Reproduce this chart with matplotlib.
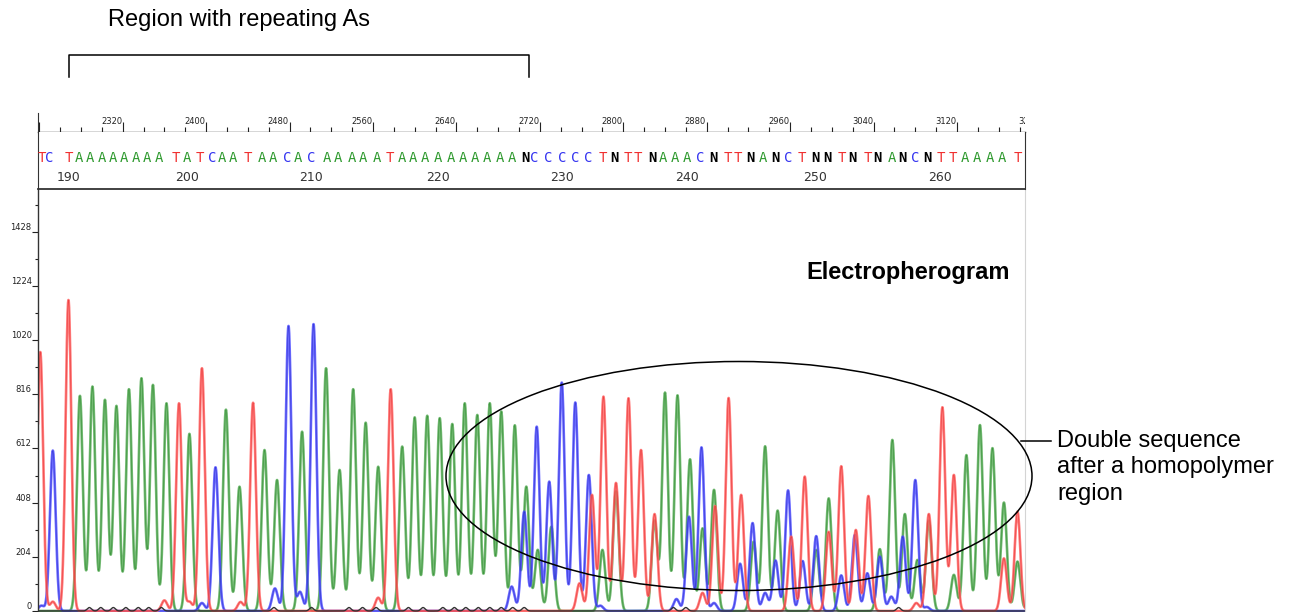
import numpy as np
import matplotlib.pyplot as plt
from matplotlib.patches import Ellipse
from matplotlib.transforms import blended_transform_factory

# ---- data (scan number, signal) -------------------------------------------
red_pos = [2241, 2253, 2268, 2360, 2374, 2384, 2396, 2433, 2445, 2565, 2577,
           2758, 2770, 2781, 2793, 2805, 2817, 2830, 2876, 2888, 2901, 2913,
           2961, 2974, 2997, 3009, 3023, 3035, 3081, 3093, 3106, 3117, 3165, 3178]
red_h = [975, 35, 1171, 40, 782, 35, 914, 34, 784, 50, 835,
         104, 437, 807, 482, 801, 606, 365, 68, 395, 802, 437,
         280, 506, 298, 545, 305, 433, 30, 365, 767, 512, 198, 374]

green_pos = [2279, 2291, 2303, 2314, 2326, 2338, 2349, 2362, 2384, 2419, 2432,
             2456, 2468, 2492, 2515, 2528, 2541, 2553, 2565, 2588, 2600, 2612,
             2624, 2636, 2648, 2660, 2672, 2683, 2696, 2707, 2718, 2731, 2780,
             2793, 2830, 2840, 2852, 2864, 2876, 2887, 2925, 2936, 2948, 2985,
             2997, 3046, 3058, 3070, 3082, 3093, 3117, 3129, 3142, 3154, 3165,
             3178, 3192]
green_h = [810, 845, 795, 772, 835, 876, 851, 782, 667, 758, 468,
           606, 493, 675, 914, 531, 835, 709, 543, 619, 729, 735,
           726, 704, 782, 738, 782, 751, 699, 468, 230, 317, 230,
           450, 340, 822, 812, 571, 311, 456, 261, 620, 378, 230,
           424, 233, 644, 365, 192, 340, 136, 587, 700, 613, 408,
           186, 220]

blue_pos = [2242, 2253, 2396, 2409, 2466, 2479, 2490, 2503, 2693, 2705, 2717,
            2729, 2741, 2754, 2767, 2778, 2851, 2863, 2875, 2887, 2912, 2924,
            2936, 2946, 2958, 2972, 2985, 3009, 3022, 3034, 3046, 3057, 3068,
            3080, 3091]
blue_h = [20, 604, 30, 541, 85, 1073, 72, 1080, 92, 374, 694,
          487, 860, 785, 512, 20, 45, 355, 616, 30, 178, 331,
          68, 190, 454, 188, 282, 134, 286, 142, 205, 54, 280,
          493, 15]

black_pos = [2288, 2299, 2311, 2323, 2335, 2345, 2357, 2465, 2501, 2537, 2550,
             2563, 2594, 2608, 2627, 2638, 2649, 2661, 2672, 2683, 2694, 2705,
             2848, 2860, 3064]
black_h = [13] * len(black_pos)

# base calls
sequence = "TCTAAAAAAAATATCAATAACACAAAAATAAAAAAAAAANCCCCCTNTTNAAACNTTNANCTNNTNTNANCNTTAAAAT"
first_base = 188
base_pos = [2242, 2250, 2268, 2278, 2289, 2300, 2311, 2321, 2333, 2343, 2355,
            2371, 2382, 2394, 2406, 2415, 2426, 2440, 2454, 2464, 2478, 2488,
            2501, 2516, 2526, 2540, 2550, 2564, 2576, 2588, 2598, 2610, 2622,
            2635, 2646, 2658, 2669, 2682, 2693, 2706, 2715, 2728, 2741, 2754,
            2766, 2780, 2792, 2804, 2814, 2828, 2838, 2850, 2861, 2874, 2886,
            2900, 2910, 2922, 2934, 2946, 2958, 2971, 2984, 2996, 3010, 3020,
            3034, 3044, 3058, 3068, 3080, 3092, 3104, 3116, 3128, 3139, 3152,
            3163, 3178]

y_ticks = [0, 204, 408, 612, 816, 1020, 1224, 1428]
scan_ticks = [2320, 2400, 2480, 2560, 2640, 2720, 2800, 2880, 2960, 3040, 3120, 3200]

base_colors = {"A": "#2f9a2f", "C": "#3434f0", "T": "#f03030", "N": "black", "G": "black"}

W, H = 1291, 612
XMIN, XMAX = 2238.8, 3185.2
SIGMA = 2.75

fig = plt.figure(figsize=(W / 100, H / 100), dpi=100)


def px_axes(x0, y0, x1, y1):
    return fig.add_axes([x0 / W, 1 - y1 / H, (x1 - x0) / W, (y1 - y0) / H])


def trace(pos, h, x, sigma):
    y = np.zeros_like(x)
    for p, a in zip(pos, h):
        y += a * np.exp(-(x - p) ** 2 / (2 * sigma ** 2))
    return y


# ---- trace panel ----------------------------------------------------------
ax = px_axes(38, 190, 1025, 612)
x = np.linspace(XMIN - 5, XMAX + 15, 6000)
traces = [(green_pos, green_h, "#5aae5a", "#1f7f1f"),
          (blue_pos, blue_h, "#5050ff", "#2020c0"),
          (red_pos, red_h, "#ff6464", "#e02020")]
for pos, h, light, dark in traces:
    y = trace(pos, h, x, SIGMA)
    ax.plot(x, y, color=light, lw=1.9, alpha=0.85)
    ax.plot(x, y, color=dark, lw=0.5, alpha=0.6)
ax.plot(x, trace(black_pos, black_h, x, 2.0), color="#333333", lw=1.0)
ax.set_xlim(XMIN, XMAX)
ax.set_ylim(-3.8, 1585)
ax.set_xticks([])
ax.set_yticks(y_ticks)
ax.set_yticklabels([str(v) for v in y_ticks], va="bottom")
ax.set_yticks([v + 102 for v in y_ticks], minor=True)
ax.tick_params(axis="y", which="major", length=4.3, width=0.8, pad=0.3,
               labelsize=6, colors="#222222")
ax.tick_params(axis="y", which="minor", length=2.2, width=0.8, colors="#222222")
for s in ["top", "bottom"]:
    ax.spines[s].set_visible(False)
ax.spines["left"].set_color("#333333")
ax.spines["left"].set_linewidth(1.0)
ax.spines["right"].set_color("#d4d4d4")
ax.spines["right"].set_linewidth(0.8)

# ---- scan number ruler ----------------------------------------------------
ax_s = px_axes(38, 113, 1025, 132)
ax_s.set_xlim(XMIN, XMAX)
ax_s.set_ylim(0, 1)
ax_s.set_yticks([])
ax_s.set_xticks([v for v in range(2240, 3200, 80)])
ax_s.set_xticks([v for v in range(2240, 3200, 20)], minor=True)
ax_s.tick_params(axis="x", which="major", direction="in", length=7.5, width=0.8,
                 labelbottom=False, colors="#222222")
ax_s.tick_params(axis="x", which="minor", direction="in", length=3.8, width=0.8,
                 colors="#222222")
for s in ["top", "right"]:
    ax_s.spines[s].set_visible(False)
ax_s.spines["left"].set_color("#333333")
ax_s.spines["bottom"].set_color("#333333")
ax_s.spines["bottom"].set_linewidth(1.0)
ax_s.patch.set_alpha(0)
tr = blended_transform_factory(ax_s.transData, ax_s.transAxes)
for v in scan_ticks:
    ax_s.text(v - 0.6, 0.33, str(v), transform=tr, ha="right", va="bottom",
              fontsize=6, color="#222222", clip_on=True)

# ---- base call strip ------------------------------------------------------
ax_b = px_axes(38, 132, 1025, 189)
ax_b.set_xlim(XMIN, XMAX)
ax_b.set_ylim(0, 1)
ax_b.set_xticks([])
ax_b.set_yticks([])
ax_b.spines["top"].set_visible(False)
for s in ["left", "right", "bottom"]:
    ax_b.spines[s].set_color("#333333")
ax_b.spines["bottom"].set_linewidth(1.3)
for i, (b, p) in enumerate(zip(sequence, base_pos)):
    ax_b.text(p, 0.545, b, ha="center", va="center", family="DejaVu Sans Mono",
              fontsize=10, color=base_colors[b],
              fontweight="bold" if b == "N" else "normal")
    n = first_base + i
    if n % 10 == 0:
        ax_b.text(p, 0.2, str(n), ha="center", va="center", fontsize=9,
                  color="#333333")

# ---- annotations ----------------------------------------------------------
ov = fig.add_axes([0, 0, 1, 1])
ov.set_xlim(0, W)
ov.set_ylim(H, 0)
ov.axis("off")
ov.patch.set_alpha(0)
font = "Liberation Sans"
ov.text(108, 20, "Region with repeating As", fontsize=17, family=font,
        ha="left", va="center")
ov.plot([69, 69, 529, 529], [77, 55, 55, 77], color="black", lw=1.1)
ov.text(806, 273, "Electropherogram", fontsize=17, family=font,
        fontweight="bold", ha="left", va="center")
ov.add_patch(Ellipse((739, 476), 586, 229, fill=False, color="black", lw=1.1))
ov.plot([1021, 1051], [441, 441], color="black", lw=1.1)
for i, line in enumerate(["Double sequence", "after a homopolymer", "region"]):
    ov.text(1057, 441 + i * 26.5, line, fontsize=17, family=font,
            ha="left", va="center")

fig.savefig("out.png", dpi=100)
